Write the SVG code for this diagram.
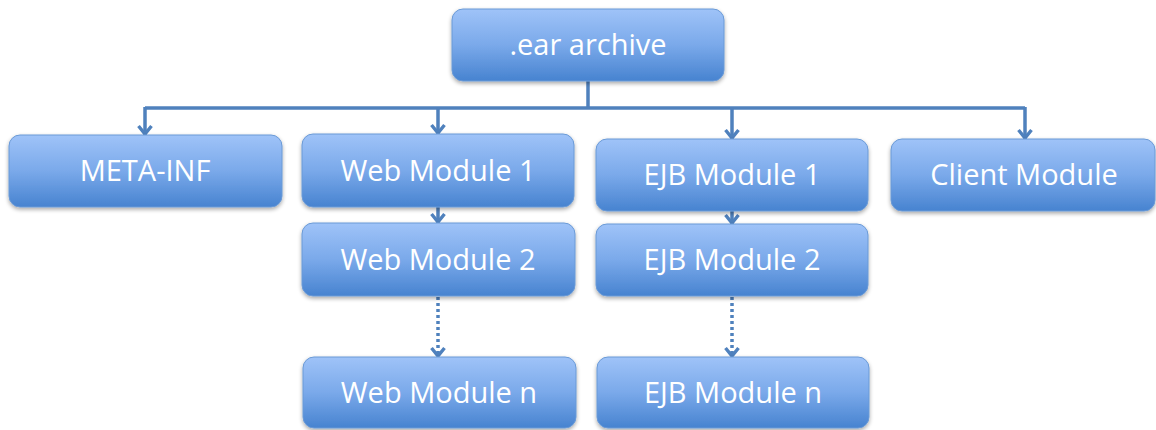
<svg xmlns="http://www.w3.org/2000/svg" width="1156" height="430" viewBox="0 0 1156 430">
<defs>
<linearGradient id="g" x1="0" y1="0" x2="0" y2="1">
<stop offset="0" stop-color="#9fc3f8"/>
<stop offset="0.5" stop-color="#7aa9ea"/>
<stop offset="1" stop-color="#4783d0"/>
</linearGradient>
<filter id="sh" x="-10%" y="-10%" width="120%" height="130%">
<feGaussianBlur in="SourceAlpha" stdDeviation="2"/>
<feOffset dx="0" dy="2" result="b"/>
<feComponentTransfer><feFuncA type="linear" slope="0.35"/></feComponentTransfer>
<feMerge><feMergeNode/><feMergeNode in="SourceGraphic"/></feMerge>
</filter>
<marker id="ah" viewBox="0 0 16 16" refX="14" refY="8" markerWidth="16" markerHeight="16" markerUnits="userSpaceOnUse" orient="auto">
<path d="M5,1.5 L13,8 L5,14.5" fill="none" stroke="#4f81bd" stroke-width="3.4" stroke-linejoin="miter"/>
</marker>
</defs>
<style>
.box{fill:url(#g);stroke:#6a9ad6;stroke-width:1;filter:url(#sh)}
.t{font-family:"Open Sans","Liberation Sans",sans-serif;font-size:29px;fill:#ffffff;text-anchor:middle}
.c{fill:none;stroke:#4f81bd;stroke-width:3.5}
.a{marker-end:url(#ah)}
.d{stroke-dasharray:3,3;stroke-width:3.5}
</style>
<g id="connectors">
<path class="c" d="M588,81 V108"/>
<path class="c" d="M145,108 H1025"/>
<path class="c a" d="M145,107 V135"/>
<path class="c a" d="M438,108 V134"/>
<path class="c a" d="M732,108 V139"/>
<path class="c a" d="M1025,107 V139"/>
<path class="c a" d="M438,207 V223"/>
<path class="c a" d="M732,211 V224"/>
<path class="c d a" d="M438,297 V357"/>
<path class="c d a" d="M732,297 V357"/>
</g>
<g id="ear">
<rect class="box" x="452" y="9" width="272" height="72" rx="11"/>
<text class="t" x="588" y="55">.ear archive</text>
</g>
<g id="metainf">
<rect class="box" x="9" y="135" width="273" height="72" rx="11"/>
<text class="t" x="145" y="181">META-INF</text>
</g>
<g id="web1">
<rect class="box" x="302" y="134" width="272" height="73" rx="11"/>
<text class="t" x="438" y="181">Web Module 1</text>
</g>
<g id="web2">
<rect class="box" x="302" y="223" width="273" height="73" rx="11"/>
<text class="t" x="438" y="270">Web Module 2</text>
</g>
<g id="webn">
<rect class="box" x="303" y="357" width="273" height="71" rx="11"/>
<text class="t" x="439" y="403">Web Module n</text>
</g>
<g id="ejb1">
<rect class="box" x="596" y="139" width="272" height="72" rx="11"/>
<text class="t" x="732" y="185">EJB Module 1</text>
</g>
<g id="ejb2">
<rect class="box" x="596" y="224" width="272" height="72" rx="11"/>
<text class="t" x="732" y="270">EJB Module 2</text>
</g>
<g id="ejbn">
<rect class="box" x="597" y="357" width="272" height="71" rx="11"/>
<text class="t" x="733" y="403">EJB Module n</text>
</g>
<g id="client">
<rect class="box" x="891" y="139" width="264" height="72" rx="11"/>
<text class="t" x="1024" y="185">Client Module</text>
</g>
</svg>
